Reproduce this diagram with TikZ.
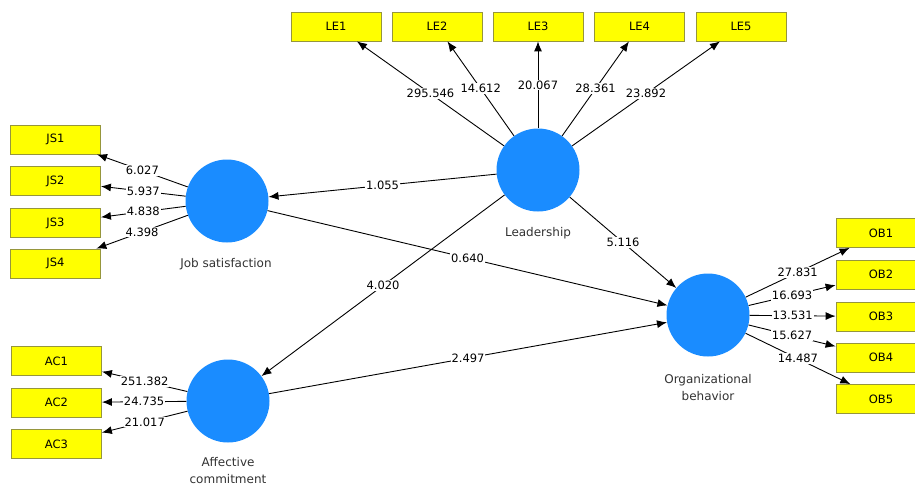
\documentclass[tikz,border=0pt]{standalone}
\usepackage{fontspec}
\setmainfont{DejaVu Sans}
\usetikzlibrary{arrows.meta}
\definecolor{lvblue}{RGB}{26,140,255}
\definecolor{indyellow}{RGB}{255,255,0}
\definecolor{indborder}{RGB}{150,150,60}
\definecolor{labgray}{RGB}{50,50,50}
\begin{document}
\begin{tikzpicture}[x=1pt,y=-1pt,
  ind/.style={draw=indborder, fill=indyellow, line width=0.8pt, minimum width=90pt, minimum height=29pt, inner sep=0pt, font=\fontsize{11.5}{13}\selectfont},
  lv/.style={circle, fill=lvblue, minimum size=83pt, inner sep=0pt},
  lvlab/.style={font=\fontsize{12}{17}\selectfont, text=labgray, align=center},
  arr/.style={-{Latex[length=10pt,width=8pt]}, line width=0.9pt},
  val/.style={fill=white, inner sep=1pt, font=\fontsize{11.5}{13}\selectfont}]
\useasboundingbox (0,0) rectangle (915,488);

% indicators
\node[ind] (LE1) at (336,26.5) {LE1};
\node[ind] (LE2) at (437,26.5) {LE2};
\node[ind] (LE3) at (538,26.5) {LE3};
\node[ind] (LE4) at (639.5,26.5) {LE4};
\node[ind] (LE5) at (741,26.5) {LE5};

\node[ind] (JS1) at (55.5,139.5) {JS1};
\node[ind] (JS2) at (55.5,181) {JS2};
\node[ind] (JS3) at (55.5,223) {JS3};
\node[ind] (JS4) at (55.5,263.5) {JS4};

\node[ind] (AC1) at (56.5,361) {AC1};
\node[ind] (AC2) at (56.5,402.5) {AC2};
\node[ind] (AC3) at (56.5,444) {AC3};

\node[ind] (OB1) at (881,233) {OB1};
\node[ind] (OB2) at (881,274.5) {OB2};
\node[ind] (OB3) at (881,316.5) {OB3};
\node[ind] (OB4) at (881,357.5) {OB4};
\node[ind] (OB5) at (881,399) {OB5};

% latent variables
\node[lv] (LS) at (538,170) {};
\node[lv] (JS) at (227,201) {};
\node[lv] (AC) at (228,401) {};
\node[lv] (OB) at (708,315) {};

\node[lvlab] (LSlab) at (538,233) {Leadership};
\node[lvlab] (JSlab) at (226,264) {Job satisfaction};
\node[lvlab] (AClab) at (228,471) {Affective\\commitment};
\node[lvlab] (OBlab) at (708,388) {Organizational\\behavior};

% outer model
\draw[arr] (LS) -- node[val] {295.546} (LE1);
\draw[arr] (LS) -- node[val] {14.612} (LE2);
\draw[arr] (LS) -- node[val] {20.067} (LE3);
\draw[arr] (LS) -- node[val] {28.361} (LE4);
\draw[arr] (LS) -- node[val] {23.892} (LE5);

\draw[arr] (JS) -- node[val] {6.027} (JS1);
\draw[arr] (JS) -- node[val] {5.937} (JS2);
\draw[arr] (JS) -- node[val] {4.838} (JS3);
\draw[arr] (JS) -- node[val] {4.398} (JS4);

\draw[arr] (AC) -- node[val] {251.382} (AC1);
\draw[arr] (AC) -- node[val] {24.735} (AC2);
\draw[arr] (AC) -- node[val] {21.017} (AC3);

\draw[arr] (OB) -- node[val] {27.831} (OB1);
\draw[arr] (OB) -- node[val] {16.693} (OB2);
\draw[arr] (OB) -- node[val] {13.531} (OB3);
\draw[arr] (OB) -- node[val] {15.627} (OB4);
\draw[arr] (OB) -- node[val] {14.487} (OB5);

% inner model
\draw[arr] (LS) -- node[val] {1.055} (JS);
\draw[arr] (JS) -- node[val] {0.640} (OB);
\draw[arr] (LS) -- node[val] {4.020} (AC);
\draw[arr] (LS) -- node[val] {5.116} (OB);
\draw[arr] (AC) -- node[val] {2.497} (OB);
\end{tikzpicture}
\end{document}
